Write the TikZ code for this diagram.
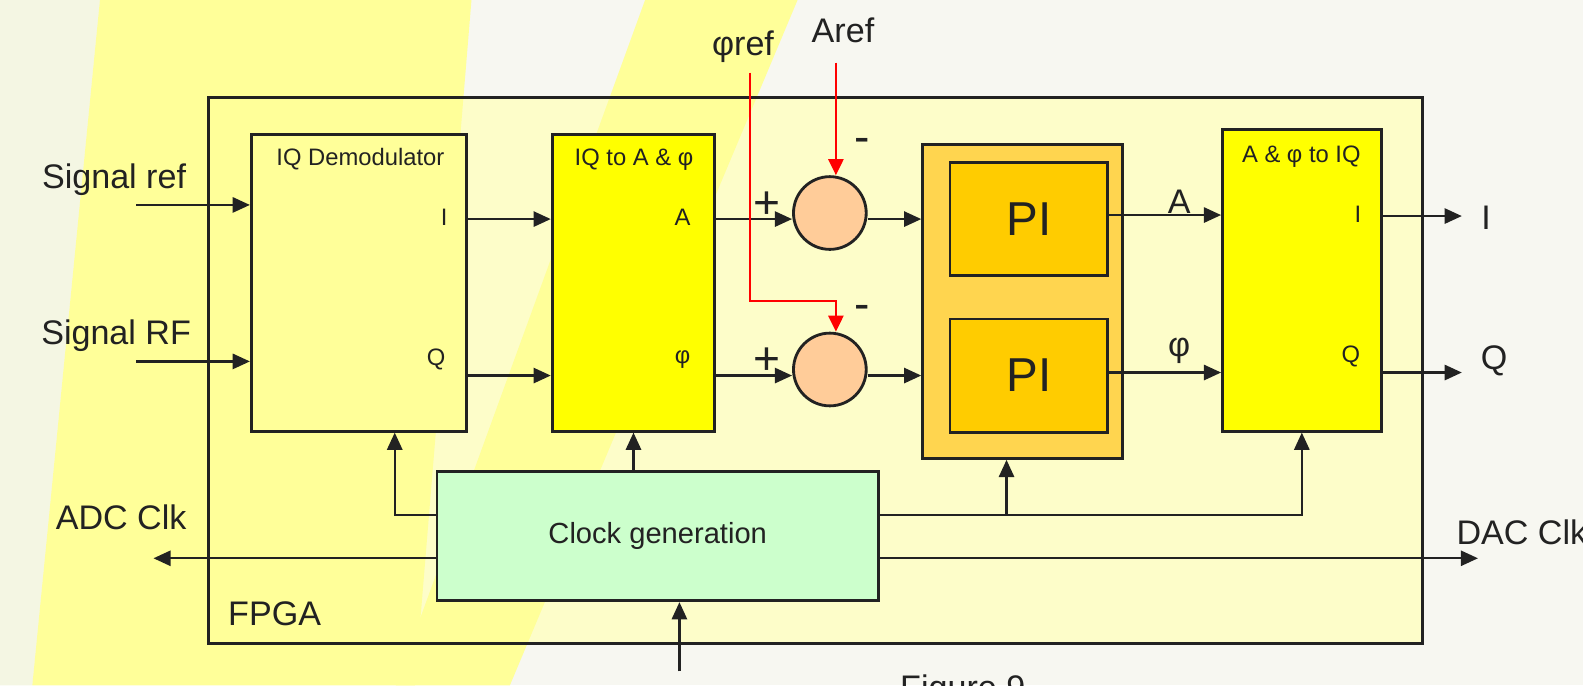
\documentclass[tikz,border=0pt]{standalone}
\usepackage{fontspec}
\setmainfont{Liberation Sans}
\definecolor{bgcream}{HTML}{F7F7F1}
\definecolor{bgleft}{HTML}{F4F6E3}
\definecolor{bandyel}{HTML}{FFFF99}
\definecolor{fpgafill}{HTML}{FDFDC9}
\definecolor{blkyel}{HTML}{FFFF00}
\definecolor{sumfill}{HTML}{FFCC99}
\definecolor{piouter}{HTML}{FFD54F}
\definecolor{piinner}{HTML}{FFCC00}
\definecolor{clkfill}{HTML}{CCFFCC}
\definecolor{lineblk}{HTML}{222222}
\usetikzlibrary{arrows.meta, positioning, calc}

\begin{document}
\begin{tikzpicture}[x=0.01cm, y=-0.01cm,
    blk/.style={draw=lineblk, line width=0.8pt, inner sep=0pt},
    sumnode/.style={circle, draw=lineblk, line width=0.8pt, fill=sumfill,
                    minimum size=0.72cm, inner sep=0pt},
    lbl/.style={font=\fontsize{9.6}{11}\selectfont, text=lineblk, inner sep=0pt},
    signlbl/.style={font=\fontsize{13}{15}\selectfont, text=lineblk, inner sep=0pt},
    portlbl/.style={font=\fontsize{6.7}{8}\selectfont, text=lineblk, inner sep=0pt},
    arr/.style={-{Triangle[length=1.7mm, width=1.5mm]}, draw=lineblk, line width=0.65pt},
    redarr/.style={-{Triangle[length=1.6mm, width=1.5mm]}, draw=red, line width=0.65pt}
  ]
    \useasboundingbox (0,0) rectangle (1568,679);
    \clip (0,0) rectangle (1568,679);
    \fill[bgcream] (0,0) rectangle (1568,679);
    \fill[bgleft] (0,0) -- (99,0) -- (32,679) -- (0,679) -- cycle;
    \fill[fpgafill] (207,97) rectangle (1409,637);
    \fill[bandyel] (99,0) -- (467,0) -- (411,679) -- (32,679) -- cycle;
    \fill[bandyel] (639,0) -- (790,0) -- (505,679) -- (392,679) -- cycle;

    \node[blk, minimum width=12.02cm, minimum height=5.4cm] (fpga) at (808,367) {};
    \node[lbl] (fpgalbl) at (272,608) {FPGA};

    \node[blk, fill=bandyel, minimum width=2.13cm, minimum height=2.94cm] (demod) at (355.5,280) {};
    \node[portlbl] (demodtitle) at (357,158) {IQ Demodulator};
    \node[portlbl] (demodi) at (440,215) {I};
    \node[portlbl] (demodq) at (432,356) {Q};

    \node[blk, fill=blkyel, minimum width=1.61cm, minimum height=2.94cm] (iqap) at (627.5,280) {};
    \node[portlbl] (iqaptitle) at (628,158) {IQ to A \& φ};
    \node[portlbl] (iqapa) at (676,215) {A};
    \node[portlbl] (iqapp) at (676,356) {φ};

    \node[sumnode] (suma) at (822,211) {};
    \node[sumnode] (sump) at (822,366) {};
    \node[signlbl] (plusa) at (760,203) {+};
    \node[signlbl] (plusp) at (760,358) {+};
    \node[signlbl] (minusa) at (854,144) {-};
    \node[signlbl] (minusp) at (854,310) {-};

    \node[blk, fill=piouter, minimum width=1.98cm, minimum height=3.11cm] (piout) at (1013,298.5) {};
    \node[blk, fill=piinner, minimum width=1.56cm, minimum height=1.12cm,
          font=\fontsize{13.4}{15}\selectfont, text=lineblk] (pia) at (1019,217) {PI};
    \node[blk, fill=piinner, minimum width=1.56cm, minimum height=1.12cm,
          font=\fontsize{13.4}{15}\selectfont, text=lineblk] (pip) at (1019,372) {PI};

    \node[blk, fill=blkyel, minimum width=1.57cm, minimum height=2.99cm] (apiq) at (1289.5,277.5) {};
    \node[portlbl] (apiqtitle) at (1289,155) {A \& φ to IQ};
    \node[portlbl] (apiqi) at (1345,212) {I};
    \node[portlbl] (apiqq) at (1338,353) {Q};

    \node[blk, fill=clkfill, minimum width=4.37cm, minimum height=1.28cm,
          font=\fontsize{8.2}{10}\selectfont, text=lineblk] (clk) at (651.5,531) {Clock generation};

    \node[lbl] (sreflbl) at (113,178) {Signal ref};
    \node[lbl] (srflbl) at (115,333) {Signal RF};
    \node[lbl] (adclbl) at (120,512) {ADC Clk};
    \node[lbl, anchor=west] (daclbl) at (1442,527) {DAC Clk};
    \node[lbl] (outilbl) at (1472,216) {I};
    \node[lbl] (outqlbl) at (1480,357) {Q};
    \node[lbl] (alblA) at (1168,200) {A};
    \node[lbl] (alblP) at (1168,348) {φ};
    \node[lbl] (areflbl) at (835,30) {Aref};
    \node[lbl] (phreflbl) at (736,46) {φref};
    \node[lbl, anchor=base west] (figlbl) at (891,693) {Figure 9};

    \coordinate (srefin) at (135,203);
    \coordinate (srfin) at (135,358);
    \coordinate (rowA) at (0,217);
    \coordinate (rowP) at (0,372);
    \coordinate (rowA2) at (0,213);
    \coordinate (rowP2) at (0,369);
    \coordinate (arefin) at (828,62);
    \coordinate (phrefin) at (743,72);
    \coordinate (phturn) at (828,298);
    \coordinate (clkrow) at (0,510);
    \coordinate (dclk) at (391,510);
    \coordinate (piclk) at (997,510);
    \coordinate (adcend) at (152,553);
    \coordinate (dacend) at (1464,553);
    \coordinate (clkin) at (673,665);
    \coordinate (outiend) at (1448,214);
    \coordinate (outqend) at (1448,369);

    \draw[arr] (srefin) -- (srefin -| demod.west);
    \draw[arr] (srfin) -- (srfin -| demod.west);
    \draw[arr] (demod.east |- rowA) -- (iqap.west |- rowA);
    \draw[arr] (demod.east |- rowP) -- (iqap.west |- rowP);
    \draw[arr] (iqap.east |- rowA) -- (suma.west |- rowA);
    \draw[arr] (iqap.east |- rowP) -- (sump.west |- rowP);
    \draw[arr] (suma.east |- rowA) -- (piout.west |- rowA);
    \draw[arr] (sump.east |- rowP) -- (piout.west |- rowP);
    \draw[arr] (pia.east |- rowA2) -- (apiq.west |- rowA2);
    \draw[arr] (pip.east |- rowP2) -- (apiq.west |- rowP2);
    \draw[arr] (apiq.east |- outiend) -- (outiend);
    \draw[arr] (apiq.east |- outqend) -- (outqend);

    \draw[arr] (clk.west |- dclk) -| (demod.south -| dclk);
    \draw[arr] (clk.north -| iqap.south) -- (iqap.south);
    \draw[arr] (clk.east |- clkrow) -| (apiq.south);
    \draw[arr] (piclk) -- (piclk |- piout.south);
    \draw[arr] (clk.west |- adcend) -- (adcend);
    \draw[arr] (clk.east |- dacend) -- (dacend);
    \draw[arr] (clkin) -- (clkin |- clk.south);

    \draw[redarr] (arefin) -- (arefin |- suma.north);
    \draw[redarr] (phrefin) |- (phturn) -- (phturn |- sump.north);
  \end{tikzpicture}
\end{document}
